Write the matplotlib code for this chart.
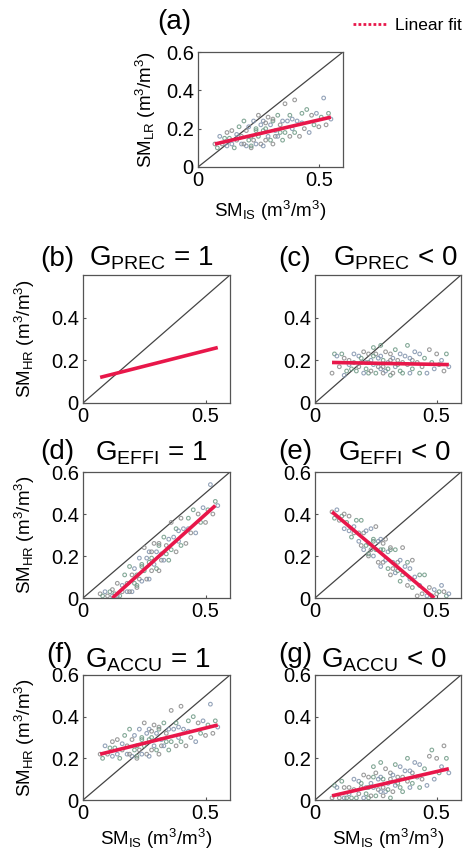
import matplotlib
matplotlib.use('Agg')
import matplotlib.pyplot as plt
from matplotlib.lines import Line2D

plt.rcParams['font.family'] = ['Liberation Sans', 'DejaVu Sans']
plt.rcParams['mathtext.fontset'] = 'custom'
plt.rcParams['mathtext.rm'] = 'Liberation Sans'
plt.rcParams['mathtext.it'] = 'Liberation Sans:italic'
plt.rcParams['mathtext.bf'] = 'Liberation Sans:bold'

# in situ soil moisture (shared by all panels)
sm_is = [0.07, 0.08, 0.09, 0.10, 0.11, 0.12, 0.12, 0.13, 0.14, 0.14,
         0.15, 0.16, 0.16, 0.17, 0.18, 0.18, 0.19, 0.20, 0.20, 0.21,
         0.21, 0.22, 0.22, 0.23, 0.23, 0.24, 0.24, 0.25, 0.25, 0.26,
         0.26, 0.27, 0.27, 0.28, 0.28, 0.29, 0.29, 0.30, 0.30, 0.31,
         0.31, 0.32, 0.32, 0.33, 0.33, 0.34, 0.35, 0.35, 0.36, 0.36,
         0.37, 0.38, 0.38, 0.39, 0.40, 0.40, 0.41, 0.42, 0.43, 0.43,
         0.44, 0.45, 0.46, 0.47, 0.48, 0.49, 0.50, 0.51, 0.52, 0.53,
         0.54, 0.55, 0.19, 0.24, 0.27, 0.31, 0.34, 0.39, 0.28, 0.22]

# (a) low resolution product
sm_lr = [0.12, 0.10, 0.16, 0.12, 0.15, 0.11, 0.18, 0.15, 0.12, 0.19,
         0.10, 0.17, 0.14, 0.21, 0.12, 0.16, 0.24, 0.11, 0.19, 0.14,
         0.21, 0.10, 0.16, 0.24, 0.14, 0.19, 0.12, 0.27, 0.16, 0.22,
         0.12, 0.19, 0.24, 0.14, 0.20, 0.16, 0.26, 0.14, 0.22, 0.12,
         0.24, 0.19, 0.16, 0.27, 0.16, 0.22, 0.14, 0.24, 0.33, 0.18,
         0.24, 0.16, 0.27, 0.20, 0.35, 0.18, 0.24, 0.16, 0.28, 0.23,
         0.20, 0.30, 0.18, 0.27, 0.22, 0.28, 0.21, 0.26, 0.36, 0.22,
         0.28, 0.25, 0.12, 0.20, 0.11, 0.25, 0.18, 0.25, 0.23, 0.11]

# (c) G_PREC < 0
sm_hr_prec = [0.14, 0.23, 0.22, 0.17, 0.23, 0.13, 0.21, 0.15, 0.18, 0.20,
              0.16, 0.23, 0.19, 0.15, 0.22, 0.17, 0.21, 0.14, 0.24, 0.16,
              0.19, 0.23, 0.14, 0.20, 0.15, 0.26, 0.18, 0.23, 0.14, 0.21,
              0.17, 0.27, 0.22, 0.14, 0.20, 0.15, 0.24, 0.16, 0.19, 0.23,
              0.13, 0.21, 0.14, 0.25, 0.17, 0.20, 0.15, 0.23, 0.19, 0.14,
              0.22, 0.18, 0.27, 0.14, 0.20, 0.16, 0.24, 0.19, 0.14, 0.23,
              0.17, 0.21, 0.14, 0.25, 0.19, 0.16, 0.23, 0.18, 0.20, 0.15,
              0.23, 0.17, 0.19, 0.22, 0.16, 0.20, 0.18, 0.21, 0.17, 0.19]

# (d) G_EFFI = 1
sm_hr_effi1 = [0.02, 0.01, 0.03, 0.01, 0.03, 0.01, 0.04, 0.02, 0.01, 0.07,
               0.01, 0.06, 0.03, 0.11, 0.03, 0.07, 0.15, 0.03, 0.11, 0.07,
               0.14, 0.05, 0.11, 0.19, 0.09, 0.15, 0.08, 0.24, 0.13, 0.19,
               0.09, 0.17, 0.22, 0.13, 0.19, 0.16, 0.26, 0.14, 0.22, 0.13,
               0.25, 0.21, 0.18, 0.29, 0.18, 0.25, 0.18, 0.28, 0.36, 0.23,
               0.29, 0.22, 0.33, 0.27, 0.38, 0.25, 0.33, 0.26, 0.38, 0.33,
               0.31, 0.42, 0.31, 0.40, 0.36, 0.43, 0.36, 0.42, 0.54, 0.40,
               0.46, 0.44, 0.03, 0.16, 0.09, 0.26, 0.21, 0.32, 0.22, 0.06]

# (e) G_EFFI < 0
sm_hr_effi0 = [0.41, 0.38, 0.42, 0.37, 0.39, 0.33, 0.40, 0.36, 0.32, 0.39,
               0.29, 0.34, 0.31, 0.37, 0.27, 0.31, 0.37, 0.23, 0.31, 0.25,
               0.32, 0.20, 0.26, 0.33, 0.23, 0.27, 0.20, 0.34, 0.23, 0.27,
               0.17, 0.23, 0.28, 0.17, 0.23, 0.18, 0.28, 0.14, 0.22, 0.11,
               0.23, 0.17, 0.14, 0.23, 0.12, 0.17, 0.08, 0.18, 0.24, 0.11,
               0.15, 0.06, 0.17, 0.09, 0.18, 0.05, 0.10, 0.01, 0.11, 0.06,
               0.02, 0.11, 0.01, 0.05, 0.01, 0.04, 0.02, 0.03, 0.06, 0.03,
               0.01, 0.02, 0.25, 0.28, 0.15, 0.24, 0.13, 0.14, 0.26, 0.21]

# (f) G_ACCU = 1
sm_hr_accu1 = [0.22, 0.20, 0.26, 0.22, 0.25, 0.21, 0.28, 0.25, 0.22, 0.29,
               0.20, 0.27, 0.24, 0.31, 0.22, 0.26, 0.34, 0.21, 0.29, 0.24,
               0.31, 0.20, 0.26, 0.34, 0.24, 0.29, 0.22, 0.37, 0.26, 0.32,
               0.22, 0.29, 0.34, 0.24, 0.30, 0.26, 0.36, 0.24, 0.32, 0.22,
               0.34, 0.29, 0.26, 0.37, 0.26, 0.32, 0.24, 0.34, 0.43, 0.28,
               0.34, 0.26, 0.37, 0.30, 0.45, 0.28, 0.34, 0.26, 0.38, 0.33,
               0.30, 0.40, 0.28, 0.37, 0.32, 0.38, 0.31, 0.36, 0.46, 0.32,
               0.38, 0.35, 0.22, 0.30, 0.21, 0.35, 0.28, 0.35, 0.33, 0.21]

# (g) G_ACCU < 0
sm_hr_accu0 = [0.01, 0.07, 0.06, 0.01, 0.09, 0.01, 0.06, 0.01, 0.03, 0.06,
               0.01, 0.10, 0.05, 0.01, 0.09, 0.03, 0.08, 0.01, 0.12, 0.03,
               0.06, 0.11, 0.01, 0.08, 0.02, 0.16, 0.06, 0.13, 0.02, 0.10,
               0.05, 0.18, 0.11, 0.02, 0.10, 0.04, 0.15, 0.05, 0.08, 0.13,
               0.01, 0.12, 0.04, 0.17, 0.07, 0.11, 0.06, 0.16, 0.11, 0.04,
               0.14, 0.09, 0.20, 0.06, 0.13, 0.08, 0.18, 0.11, 0.06, 0.17,
               0.10, 0.15, 0.07, 0.21, 0.24, 0.10, 0.20, 0.13, 0.16, 0.26,
               0.20, 0.13, 0.06, 0.11, 0.04, 0.10, 0.08, 0.14, 0.06, 0.06]

# linear fit end points
fit_x = [0.07, 0.55]
fit_a = [0.12, 0.26]
fit_b = [0.12, 0.26]
fit_c = [0.19, 0.18]
fit_d_x = [0.12, 0.54]
fit_d = [0.00, 0.44]
fit_e_x = [0.07, 0.49]
fit_e = [0.41, 0.00]
fit_f = [0.22, 0.36]
fit_g = [0.02, 0.15]

RED = '#e8174a'
DOT_COLORS = ['#8a8a8a', '#6f9a86', '#8193ad']
W, H = 464, 856
TICK_FS = 14.5
LAB_FS = 13.5
TITLE_FS = 20

fig = plt.figure(figsize=(W / 100, H / 100), dpi=100)


def box(left, top, right, bottom):
    return [left / W, 1 - bottom / H, (right - left) / W, (bottom - top) / H]


def panel(rect, x, y, fx, fy, yticks=(0, 0.2, 0.4, 0.6)):
    ax = fig.add_axes(rect)
    if x is not None:
        cols = [DOT_COLORS[i % 3] for i in range(len(x))]
        ax.scatter(x, y, s=7, facecolors='none', edgecolors=cols,
                   linewidths=0.8, alpha=0.85, zorder=2)
    ax.plot([0, 0.6], [0, 0.6], color='#444444', lw=0.9, zorder=1)
    ax.plot(fx, fy, color=RED, lw=2.6, zorder=3, solid_capstyle='butt')
    ax.set_xlim(0, 0.6)
    ax.set_ylim(0, 0.6)
    ax.set_xticks([0, 0.5])
    ax.set_xticklabels(['0', '0.5'])
    ax.set_yticks(list(yticks))
    ax.set_yticklabels(['0' if t == 0 else f'{t:.1f}' for t in yticks])
    ax.tick_params(direction='in', length=2, labelsize=TICK_FS, pad=3, color='#555555')
    for s in ax.spines.values():
        s.set_color('#555555')
        s.set_linewidth(0.9)
    return ax


ylab_lr = r'SM$_{\mathrm{LR}}$ (m$^{3}$/m$^{3}$)'
ylab_hr = r'SM$_{\mathrm{HR}}$ (m$^{3}$/m$^{3}$)'
xlab_is = r'SM$_{\mathrm{IS}}$ (m$^{3}$/m$^{3}$)'

ax_a = panel(box(198, 52, 343, 167), sm_is, sm_lr, fit_x, fit_a)
ax_a.set_ylabel(ylab_lr, fontsize=LAB_FS)
ax_a.yaxis.set_label_coords(-40 / 145, 0.5)
ax_a.set_xlabel(xlab_is, fontsize=LAB_FS, labelpad=6)

ax_b = panel(box(83, 275, 230, 403), None, None, fit_x, fit_b, yticks=(0, 0.2, 0.4))
ax_c = panel(box(315, 275, 461, 403), sm_is, sm_hr_prec, fit_x, fit_c, yticks=(0, 0.2, 0.4))
ax_d = panel(box(83, 472, 230, 598), sm_is, sm_hr_effi1, fit_d_x, fit_d)
ax_e = panel(box(315, 472, 461, 598), sm_is, sm_hr_effi0, fit_e_x, fit_e)
ax_f = panel(box(83, 675, 230, 800), sm_is, sm_hr_accu1, fit_x, fit_f)
ax_g = panel(box(315, 675, 461, 800), sm_is, sm_hr_accu0, fit_x, fit_g)

for ax in (ax_b, ax_d, ax_f):
    ax.set_ylabel(ylab_hr, fontsize=LAB_FS)
    ax.yaxis.set_label_coords(-46 / 147, 0.5)
for ax in (ax_f, ax_g):
    ax.set_xlabel(xlab_is, fontsize=LAB_FS, labelpad=3)


# panel letters and titles
def label(x, y, s, ha='left'):
    fig.text(x / W, 1 - y / H, s, ha=ha, va='baseline', fontsize=TITLE_FS)


label(157, 29, '(a)')
label(40, 266, '(b)')
label(151, 266, r'G$_{\mathrm{PREC}}$ = 1', ha='center')
label(278, 266, '(c)')
label(395, 266, r'G$_{\mathrm{PREC}}$ < 0', ha='center')
label(40, 459, '(d)')
label(151, 461, r'G$_{\mathrm{EFFI}}$ = 1', ha='center')
label(278, 459, '(e)')
label(394, 461, r'G$_{\mathrm{EFFI}}$ < 0', ha='center')
label(46, 662, '(f)')
label(148, 668, r'G$_{\mathrm{ACCU}}$ = 1', ha='center')
label(278, 662, '(g)')
label(384, 668, r'G$_{\mathrm{ACCU}}$ < 0', ha='center')

handle = Line2D([], [], color=RED, lw=2, ls=(0, (1, 0.8)))
fig.legend(handles=[handle], labels=['Linear fit'], loc='center left',
           bbox_to_anchor=(353 / W, 1 - 25 / H), frameon=False, fontsize=12.5,
           handlelength=1.95, handletextpad=0.45, borderpad=0, borderaxespad=0)

fig.savefig('out.png', dpi=100)
